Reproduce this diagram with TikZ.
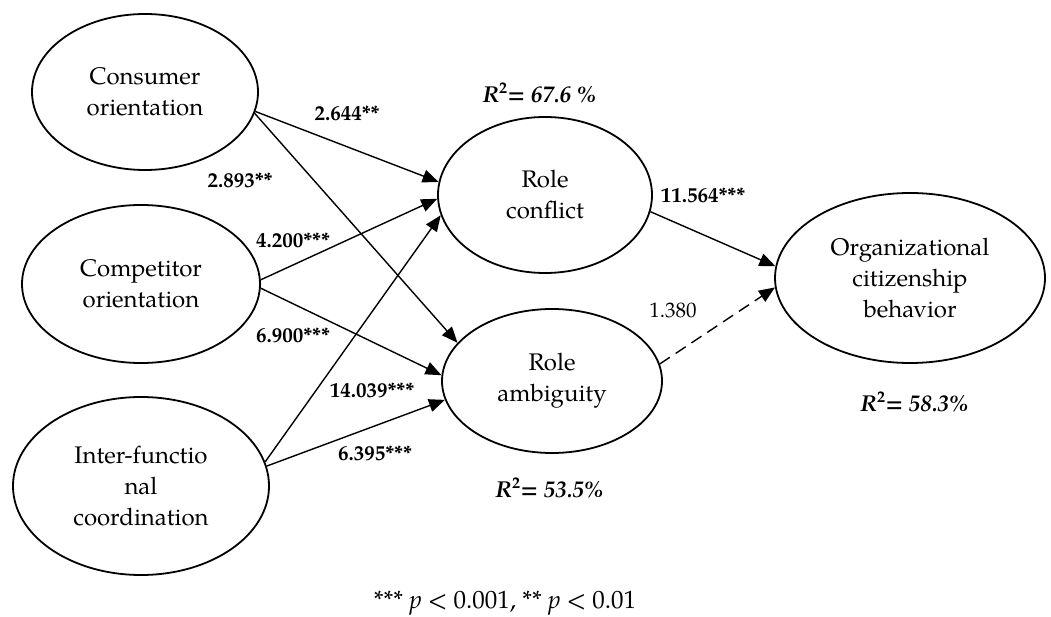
\documentclass[tikz,border=0pt]{standalone}
\usepackage{fontspec}
\setmainfont{TeX Gyre Pagella}
\usetikzlibrary{shapes.geometric,arrows.meta}
\tikzset{
  latent/.style={draw, ellipse, line width=1.8pt, inner sep=0pt, align=center,
    font=\fontsize{24}{31}\selectfont},
  path/.style={line width=1.4pt, -{Triangle[length=16pt,width=13pt]}},
  coef/.style={font=\fontsize{21}{24}\selectfont\bfseries, inner sep=0pt},
  coefn/.style={font=\fontsize{21}{24}\selectfont, inner sep=0pt},
  rsq/.style={font=\fontsize{23}{26}\selectfont\bfseries\itshape, inner sep=0pt},
}
\begin{document}
\begin{tikzpicture}[x=1pt,y=-1pt]
\useasboundingbox (0,0) rectangle (1051,617);
\node[latent, minimum width=226pt, minimum height=156pt] (co) at (145,92) {Consumer\\orientation};
\node[latent, minimum width=238pt, minimum height=158pt] (cp) at (141,284) {Competitor\\orientation};
\node[latent, minimum width=256pt, minimum height=178pt] (ifc) at (141,486) {Inter-functio\\nal\\coordination};
\node[latent, minimum width=214pt, minimum height=156pt] (rc) at (545,195) {Role\\conflict};
\node[latent, minimum width=220pt, minimum height=144pt] (ra) at (552,381) {Role\\ambiguity};
\node[latent, minimum width=270pt, minimum height=170pt] (ocb) at (910,278) {Organizational\\citizenship\\behavior};

\draw[path] (co.-10.5) -- (rc.173.7);
\draw[path] (co.-11.3) -- (ra.158.5);
\draw[path] (cp.2) -- (rc.-178.4);
\draw[path] (cp.-2) -- (ra.177.5);
\draw[path] (ifc.11.6) -- (rc.-169.7);
\draw[path] (ifc.9.7) -- (ra.-170);
\draw[path] (rc.-9.5) -- (ocb.175.9);
\draw[path, dash pattern=on 12pt off 7pt] (ra.9.8) -- (ocb.-176.7);

\node[coef] (l1) at (347,113) {2.644**};
\node[coef] (l2) at (240,180) {2.893**};
\node[coef] (l3) at (293,240) {4.200***};
\node[coef] (l4) at (293,335) {6.900***};
\node[coef] (l5) at (372,390) {14.039***};
\node[coef] (l6) at (375,453) {6.395***};
\node[coef] (l7) at (703,195) {11.564***};
\node[coefn] (l8) at (673,310) {1.380};

\node[rsq] (r1) at (540,93) {R\textsuperscript{\upshape 2}= 67.6 \%};
\node[rsq] (r2) at (550,488) {R\textsuperscript{\upshape 2}= 53.5\%};
\node[rsq] (r3) at (915,402) {R\textsuperscript{\upshape 2}= 58.3\%};

\node[font=\fontsize{25}{28}\selectfont, inner sep=0pt] (fn) at (505,603) {*** \textit{p} < 0.001, ** \textit{p} < 0.01};
\end{tikzpicture}
\end{document}
